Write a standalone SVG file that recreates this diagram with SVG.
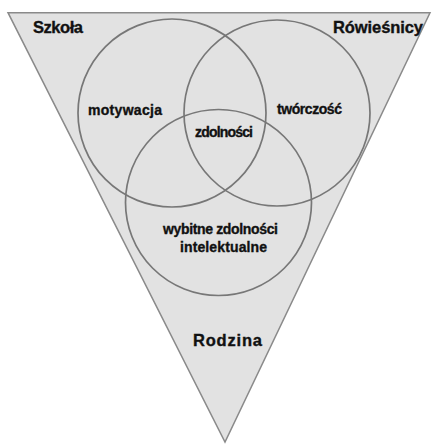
<svg xmlns="http://www.w3.org/2000/svg" width="437" height="444" viewBox="0 0 437 444">
<style>
.tri{fill:#e2e2e2;stroke:#8a8a8a;stroke-width:1.5}
.c{fill:none;stroke:#777777;stroke-width:1.7}
text{font-family:"Liberation Sans",Arial,sans-serif;font-weight:bold;fill:#111;stroke:#111;stroke-width:0.35}
.big{font-size:16.5px}
.sm{font-size:14px}
</style>
<rect width="437" height="444" fill="#ffffff"/>
<g id="triangle"><polygon class="tri" points="8,12.7 430,12.7 225,442"/></g>
<g id="circles">
<circle id="circle-left" class="c" cx="172" cy="113" r="94"/>
<circle id="circle-right" class="c" cx="277" cy="113" r="93"/>
<circle id="circle-bottom" class="c" cx="218.5" cy="202.5" r="93"/>
</g>
<g id="labels">
<text id="szkola" class="big" x="33" y="33" textLength="50">Szkoła</text>
<text id="rowiesnicy" class="big" x="333" y="33" textLength="90">Rówieśnicy</text>
<text id="motywacja" class="sm" x="88" y="115" textLength="74">motywacja</text>
<text id="tworczosc" class="sm" x="277" y="114" textLength="65">twórczość</text>
<text id="zdolnosci" class="sm" x="195" y="137" textLength="58">zdolności</text>
<text id="wybitne" class="sm" x="163" y="234" textLength="115">wybitne zdolności</text>
<text id="intelektualne" class="sm" x="180" y="252" textLength="87">intelektualne</text>
<text id="rodzina" class="big" x="193" y="346" textLength="69">Rodzina</text>
</g>
</svg>
